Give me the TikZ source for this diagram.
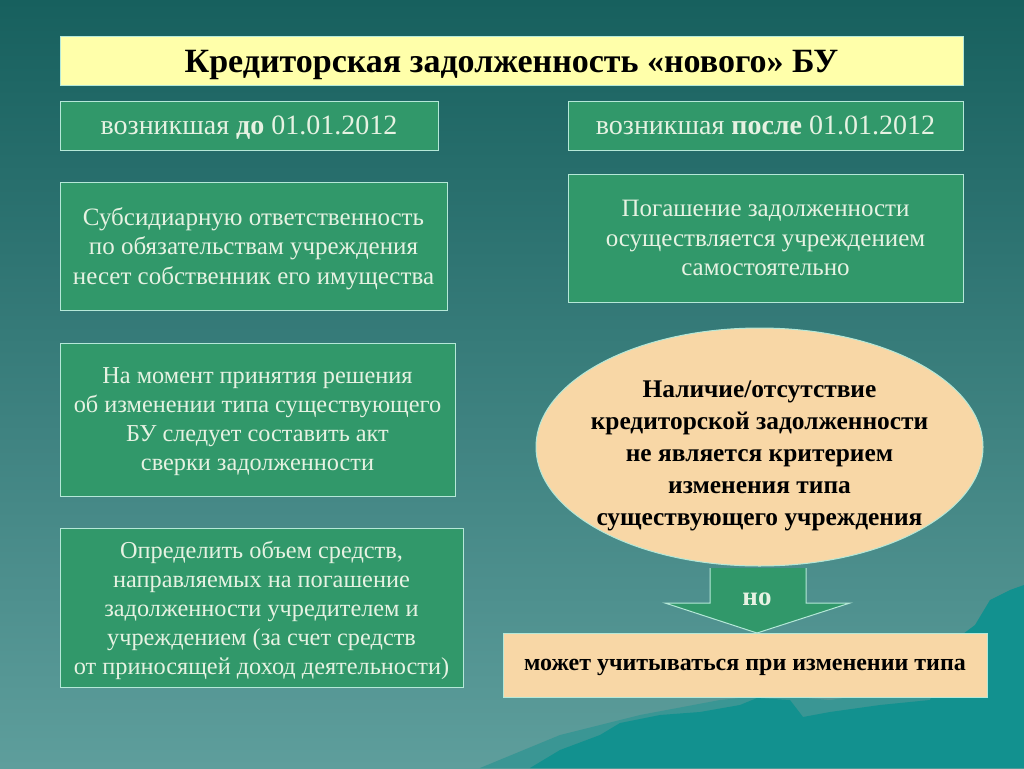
\documentclass[tikz,border=0pt]{standalone}
\usepackage{fontspec}
\setmainfont{Liberation Serif}
\usetikzlibrary{shapes.geometric}
\definecolor{bgtop}{HTML}{17605E}
\definecolor{bgbot}{HTML}{5E9E9C}
\definecolor{mount}{HTML}{12918F}
\definecolor{mountb}{HTML}{3A9694}
\definecolor{gfill}{HTML}{31986A}
\definecolor{gline}{HTML}{B5E8D8}
\definecolor{gtext}{HTML}{E6F2E2}
\definecolor{yfill}{HTML}{FFFFAA}
\definecolor{pfill}{HTML}{F8D7A6}
\begin{document}
\begin{tikzpicture}[x=1pt,y=-1pt,
  gbox/.style={draw=gline, line width=1pt, fill=gfill, text=gtext, align=center,
    font=\fontsize{25}{29.5}\selectfont, inner sep=0pt, text depth=0pt},
  ybox/.style={draw=gline, line width=1pt, fill=yfill, text=black, align=center,
    font=\fontsize{34}{38}\selectfont\bfseries, inner sep=0pt, text depth=0pt},
  pbox/.style={draw=gline, line width=1pt, fill=pfill, text=black, align=center,
    font=\fontsize{24}{28}\selectfont\bfseries, inner sep=0pt, text depth=-6pt},
  pell/.style={ellipse, draw=gline, line width=1pt, fill=pfill, inner sep=0pt},
  elltext/.style={text=black, align=center, inner sep=0pt, text depth=0pt,
    font=\fontsize{25.4}{32}\selectfont\bfseries}]
\useasboundingbox (0,0) rectangle (1024,768);
\shade[top color=bgtop, bottom color=bgbot] (0,0) rectangle (1024,768);
% mountains
\fill[mountb] (480,768) -- (560,735) -- (640,715) -- (720,700) -- (770,695) -- (830,700)
  -- (900,690) -- (960,680) -- (1024,670) -- (1024,768) -- cycle;
\fill[mount] (530,768) -- (560,750) -- (600,735) -- (620,723) -- (660,715) -- (700,712)
  -- (740,705) -- (757,698) -- (790,700) -- (803,717) -- (830,712) -- (880,705)
  -- (930,700) -- (955,640) -- (975,625) -- (990,600) -- (1010,590) -- (1024,585)
  -- (1024,768) -- cycle;
% boxes
\node[ybox, minimum width=903pt, minimum height=48pt] (title) at (511.5,61)
  {Кредиторская задолженность «нового» БУ};
\node[gbox, font=\fontsize{28}{32}\selectfont, minimum width=378pt, minimum height=49pt] (b1) at (249,125.5)
  {возникшая \textbf{до} 01.01.2012};
\node[gbox, font=\fontsize{28}{32}\selectfont, minimum width=395pt, minimum height=49pt] (b2) at (765.5,125.5)
  {возникшая \textbf{после} 01.01.2012};
\node[gbox, minimum width=387pt, minimum height=128pt] (b3) at (253.5,246)
  {Субсидиарную ответственность\\по обязательствам учреждения\\несет собственник его имущества};
\node[gbox, minimum width=395pt, minimum height=128pt] (b4) at (765.5,238)
  {Погашение задолженности\\осуществляется учреждением\\самостоятельно};
\node[gbox, font=\fontsize{24.3}{29}\selectfont, text depth=-12pt, minimum width=395pt, minimum height=153pt] (b5) at (257.5,419.5)
  {На момент принятия решения\\об изменении типа существующего\\БУ следует составить акт\\сверки задолженности};
\node[gbox, font=\fontsize{24.3}{29}\selectfont, minimum width=403pt, minimum height=159pt] (b6) at (261.5,607.5)
  {Определить объем средств,\\направляемых на погашение\\задолженности учредителем и\\учреждением (за счет средств\\от приносящей доход деятельности)};
\node[pell, minimum width=447pt, minimum height=238pt] (ell) at (759.5,447) {};
\node[elltext] (et) at ([yshift=-6pt]ell.center)
  {Наличие/отсутствие\\кредиторской задолженности\\не является критерием\\изменения типа\\существующего учреждения};
\node[pbox, minimum width=484pt, minimum height=64pt] (b7) at (745,665)
  {может учитываться при изменении типа};
% arrow
\coordinate (aT) at (757,568);
\fill[gfill] (710,568) -- (806,568) -- (806,603) -- (850,603) -- (757,633) -- (665,603)
  -- (710,603) -- cycle;
\draw[gline, line width=1pt] (710,568) -- (710,603) -- (665,603) -- (757,633)
  -- (850,603) -- (806,603) -- (806,568);
\node[text=gtext, font=\fontsize{27}{30}\selectfont\bfseries, text depth=0pt] (no) at (757,599) {но};
\end{tikzpicture}
\end{document}
